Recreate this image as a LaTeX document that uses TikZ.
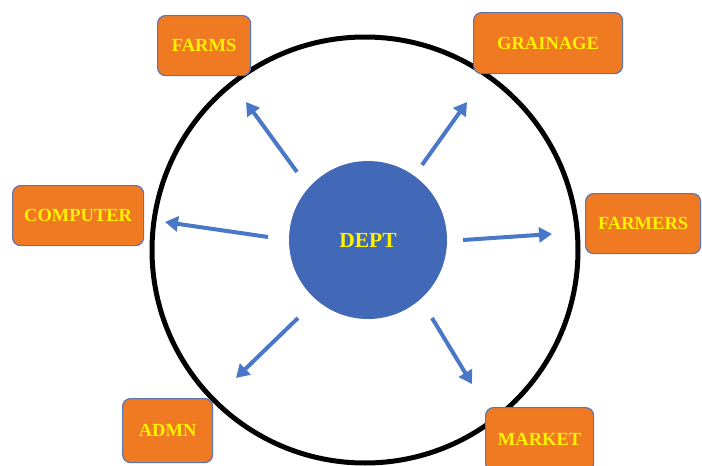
\documentclass[tikz,border=0pt]{standalone}
\usepackage{fontspec}
\setmainfont{Liberation Serif}
\usetikzlibrary{arrows.meta}
\definecolor{boxorange}{HTML}{F07A22}
\definecolor{deptblue}{HTML}{4169B8}
\definecolor{arrowblue}{HTML}{4A78C8}
\definecolor{boxedge}{HTML}{5A74B8}
\definecolor{txtyellow}{HTML}{FFF200}
\tikzset{
  unitbox/.style={draw=boxedge, line width=1.2pt, fill=boxorange, rounded corners=8pt,
    font=\bfseries\fontsize{18.5}{18.5}\selectfont, text=txtyellow, anchor=north west, inner sep=0pt},
  flow/.style={draw=arrowblue, line width=4pt, -{Triangle[length=13pt,width=15pt]}}
}
\begin{document}
\begin{tikzpicture}[x=1pt,y=-1pt]
\useasboundingbox (0,0) rectangle (702,466);
\fill[white] (0,0) rectangle (702,466);
\node[draw=black, line width=5pt, circle, minimum size=426pt, inner sep=0pt] (ring) at (365,250) {};
\node[circle, fill=deptblue, minimum size=158pt, inner sep=0pt, text=txtyellow,
  font=\bfseries\fontsize{21.5}{21.5}\selectfont] (dept) at (368,240) {DEPT};
\node[unitbox, minimum width=93pt, minimum height=60pt] (farms) at (157,15) {FARMS};
\node[unitbox, minimum width=149pt, minimum height=61pt] (grainage) at (473,12) {GRAINAGE};
\node[unitbox, minimum width=131pt, minimum height=60pt] (computer) at (12,185) {COMPUTER};
\node[unitbox, minimum width=115pt, minimum height=60pt] (farmers) at (585,193) {FARMERS};
\node[unitbox, minimum width=90pt, minimum height=64pt] (admn) at (122,398) {ADMN};
\node[unitbox, minimum width=108pt, minimum height=64pt] (market) at (485,407) {MARKET};
\coordinate (a1s) at (297,172); \coordinate (a1e) at (246,102);
\coordinate (a2s) at (422,165); \coordinate (a2e) at (467,102);
\coordinate (a3s) at (268,237); \coordinate (a3e) at (165,222);
\coordinate (a4s) at (463,240); \coordinate (a4e) at (552,234);
\coordinate (a5s) at (298,318); \coordinate (a5e) at (236,378);
\coordinate (a6s) at (432,318); \coordinate (a6e) at (472,384);
\draw[flow] (a1s) -- (a1e);
\draw[flow] (a2s) -- (a2e);
\draw[flow] (a3s) -- (a3e);
\draw[flow] (a4s) -- (a4e);
\draw[flow] (a5s) -- (a5e);
\draw[flow] (a6s) -- (a6e);
\end{tikzpicture}
\end{document}
